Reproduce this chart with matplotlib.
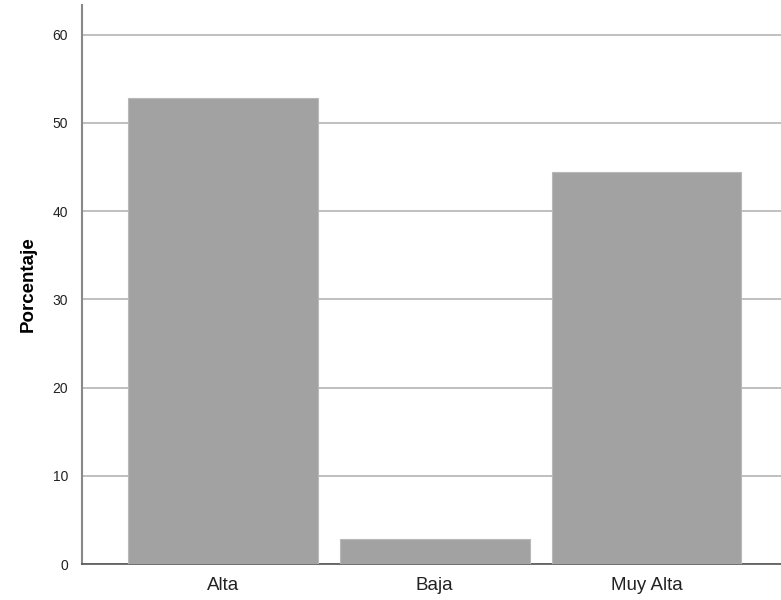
import matplotlib
matplotlib.use("Agg")
import matplotlib.pyplot as plt
import numpy as np

# category values (percentages)
categorias = ["Alta", "Baja", "Muy Alta"]
porcentajes = [52.8, 2.8, 44.4]
yticks = [0, 10, 20, 30, 40, 50, 60]

plt.rcParams['font.family'] = ['Liberation Sans', 'DejaVu Sans']

fig = plt.figure(figsize=(7.81, 6.0), dpi=100)
ax = fig.add_axes([0.105, 0.06, 0.895, 0.932])

x = np.arange(len(categorias))
ax.bar(x, porcentajes, width=0.896, color='#a2a2a2', edgecolor='#b8b8b8',
       linewidth=0.8, zorder=3)

ax.set_xlim(-0.665, 2.635)
ax.set_ylim(0, 63.4)
ax.set_yticks(yticks)
ax.set_xticks(x)
ax.set_xticklabels(categorias, fontsize=13.5, color='#222222')
ax.tick_params(axis='y', length=0, pad=10, labelsize=10, colors='#222222')
ax.tick_params(axis='x', length=0, pad=9)
ax.yaxis.grid(True, color='#b4b4b4', linewidth=1.2, zorder=0)
ax.set_axisbelow(True)

for s in ['top', 'right']:
    ax.spines[s].set_visible(False)
ax.spines['left'].set_color('#888888')
ax.spines['left'].set_linewidth(1.5)
ax.spines['bottom'].set_color('#555555')
ax.spines['bottom'].set_linewidth(1.2)

ax.set_ylabel("Porcentaje", fontsize=13.5, fontweight='bold', labelpad=11)

fig.savefig("out.png", dpi=100)
